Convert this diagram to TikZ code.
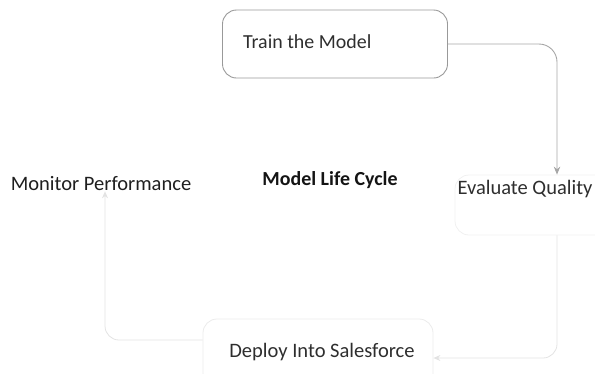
\documentclass[tikz,border=0pt]{standalone}
\usepackage{fontspec}
\setmainfont{Carlito}
\usetikzlibrary{arrows.meta}
\begin{document}
\begin{tikzpicture}[x=1bp,y=-1bp,
  lbl/.style={inner sep=0pt,text=black!82,font=\fontsize{20.6}{24}\selectfont},
  stepbox/.style={draw=black!40,line width=0.9pt,rounded corners=14bp},
  faintbox/.style={draw=black!8,line width=0.8pt,rounded corners=14bp},
  link/.style={draw=black!35,line width=0.9pt,rounded corners=18bp,-{Stealth[length=8bp,width=6.5bp]}},
  faintlink/.style={draw=black!11,line width=0.8pt,rounded corners=14bp,-{Stealth[length=7bp,width=6bp]}}]
\useasboundingbox (0,0) rectangle (595,373);
% boxes
\node[stepbox,minimum width=225bp,minimum height=68bp] (train) at (335,44) {};
\node[faintbox,minimum width=230bp,minimum height=68bp] (deploy) at (318,353) {};
\node[faintbox,draw=black!6,minimum width=170bp,minimum height=60bp] (evalbox) at (540,205) {};
% texts
\node[lbl,anchor=west,font=\fontsize{20}{24}\selectfont] (traint) at (243,42) {Train the Model};
\node[lbl,text=black!88] (mon) at (101,184) {Monitor Performance};
\node[lbl,text=black!92,font=\fontsize{20}{24}\selectfont\bfseries] (cyc) at (330,180) {Model Life Cycle};
\node[lbl] (eval) at (525,189) {Evaluate Quality};
\node[lbl] (dep) at (322,352) {Deploy Into Salesforce};
% connectors
\coordinate (c1) at (557,44);
\draw[link] (train.east) -- (c1) -- (evalbox.north -| c1);
\coordinate (c2) at (557,358);
\draw[faintlink] (evalbox.south -| c2) -- (c2) -- (deploy.east |- c2);
\coordinate (c3) at (105,340);
\draw[faintlink] (deploy.west |- c3) -- (c3) -- (mon.south -| c3);
\end{tikzpicture}
\end{document}
